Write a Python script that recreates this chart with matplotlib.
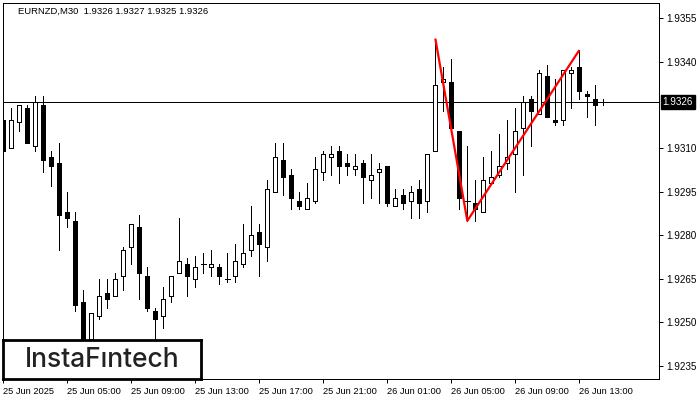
import matplotlib
matplotlib.use("Agg")
import matplotlib.pyplot as plt
from matplotlib.patches import Rectangle

title_text = "EURNZD,M30  1.9326 1.9327 1.9325 1.9326"
logo_text = "InstaF\u0131ntech"

opens = [1.9320, 1.9310, 1.9319, 1.9324, 1.9311, 1.9325, 1.9307, 1.9305, 1.9288, 1.9285,
         1.9257, 1.9244, 1.9252, 1.9260, 1.9259, 1.9266, 1.9276, 1.9283, 1.9266, 1.9254,
         1.9252, 1.9259, 1.9267, 1.9270, 1.9265, 1.9270, 1.9269, 1.9269, 1.9265, 1.9266,
         1.9270, 1.9275, 1.9281, 1.9276, 1.9295, 1.9306, 1.9301, 1.9292, 1.9289, 1.9292,
         1.9302, 1.9307, 1.9309, 1.9305, 1.9303, 1.9305, 1.9299, 1.9302, 1.9304, 1.9290,
         1.9294, 1.9292, 1.9296, 1.9292, 1.9309, 1.9333, 1.9333, 1.9316, 1.9292, 1.9291,
         1.9288, 1.9298, 1.9301, 1.9305, 1.9308, 1.9317, 1.9327, 1.9322, 1.9335, 1.9320,
         1.9320, 1.9336, 1.9338, 1.9329, 1.9327, 1.9326]
highs = [1.9322, 1.9324, 1.9325, 1.9325, 1.9328, 1.9328, 1.9309, 1.9312, 1.9295, 1.9288,
         1.9261, 1.9253, 1.9265, 1.9265, 1.9267, 1.9276, 1.9284, 1.9287, 1.9269, 1.9255,
         1.9262, 1.9266, 1.9286, 1.9272, 1.9273, 1.9274, 1.9275, 1.9270, 1.9274, 1.9277,
         1.9284, 1.9290, 1.9284, 1.9299, 1.9312, 1.9312, 1.9303, 1.9295, 1.9298, 1.9307,
         1.9309, 1.9311, 1.9311, 1.9308, 1.9308, 1.9306, 1.9308, 1.9305, 1.9304, 1.9296,
         1.9296, 1.9297, 1.9299, 1.9308, 1.9348, 1.9338, 1.9341, 1.9316, 1.9311, 1.9299,
         1.9307, 1.9309, 1.9315, 1.9320, 1.9324, 1.9328, 1.9328, 1.9337, 1.9339, 1.9334,
         1.9337, 1.9338, 1.9344, 1.9330, 1.9332, 1.9327]
lows = [1.9308, 1.9310, 1.9316, 1.9312, 1.9309, 1.9302, 1.9297, 1.9275, 1.9283, 1.9254,
        1.9240, 1.9243, 1.9251, 1.9255, 1.9259, 1.9261, 1.9270, 1.9258, 1.9254, 1.9242,
        1.9248, 1.9257, 1.9267, 1.9259, 1.9262, 1.9267, 1.9266, 1.9263, 1.9264, 1.9264,
        1.9269, 1.9273, 1.9266, 1.9271, 1.9295, 1.9294, 1.9289, 1.9289, 1.9289, 1.9291,
        1.9299, 1.9301, 1.9298, 1.9301, 1.9301, 1.9291, 1.9293, 1.9291, 1.9290, 1.9290,
        1.9289, 1.9286, 1.9286, 1.9288, 1.9309, 1.9323, 1.9317, 1.9289, 1.9285, 1.9285,
        1.9288, 1.9298, 1.9300, 1.9303, 1.9295, 1.9301, 1.9311, 1.9322, 1.9321, 1.9318,
        1.9318, 1.9324, 1.9327, 1.9321, 1.9318, 1.9325]
closes = [1.9309, 1.9320, 1.9325, 1.9312, 1.9326, 1.9306, 1.9304, 1.9287, 1.9286, 1.9256,
          1.9242, 1.9253, 1.9259, 1.9258, 1.9265, 1.9275, 1.9284, 1.9267, 1.9255, 1.9251,
          1.9258, 1.9266, 1.9271, 1.9266, 1.9269, 1.9270, 1.9270, 1.9266, 1.9265, 1.9271,
          1.9274, 1.9280, 1.9277, 1.9296, 1.9307, 1.9300, 1.9293, 1.9290, 1.9293, 1.9303,
          1.9308, 1.9308, 1.9304, 1.9304, 1.9304, 1.9300, 1.9301, 1.9303, 1.9291, 1.9293,
          1.9291, 1.9295, 1.9291, 1.9308, 1.9332, 1.9334, 1.9317, 1.9293, 1.9292, 1.9289,
          1.9299, 1.9300, 1.9304, 1.9307, 1.9316, 1.9326, 1.9323, 1.9336, 1.9321, 1.9319,
          1.9337, 1.9337, 1.9330, 1.9328, 1.9325, 1.9326]

pattern_bars = [54, 58, 72]
pattern_prices = [1.9348, 1.9285, 1.9344]

x_tick_bars = [0, 8, 16, 24, 32, 40, 48, 56, 64, 72]
x_tick_labels = ["25 Jun 2025", "25 Jun 05:00", "25 Jun 09:00", "25 Jun 13:00",
                 "25 Jun 17:00", "25 Jun 21:00", "26 Jun 01:00", "26 Jun 05:00",
                 "26 Jun 09:00", "26 Jun 13:00"]
y_tick_values = [1.9235, 1.9250, 1.9265, 1.9280, 1.9295, 1.9310, 1.9340, 1.9355]
y_tick_labels = ["1.9235", "1.9250", "1.9265", "1.9280", "1.9295", "1.9310", "1.9340", "1.9355"]
current_price = 1.9326
current_label = "1.9326"

FONT = "Liberation Sans"
W, H = 700, 400
fig = plt.figure(figsize=(7, 4), dpi=100)
fig.patch.set_facecolor("white")
ax = fig.add_axes([3 / W, 21 / H, 656 / W, 376 / H])
ax.set_facecolor("white")

px = 0.72  # one pixel in points
body_w = 0.5
for i, (o, h, l, c) in enumerate(zip(opens, highs, lows, closes)):
    ax.vlines(i, l, h, color="black", lw=px, antialiased=False, zorder=2)
    if o == c:
        ax.hlines(o, i - 0.32, i + 0.32, color="black", lw=px, antialiased=False, zorder=3)
    else:
        bottom = min(o, c)
        fill = "white" if c > o else "black"
        ax.add_patch(Rectangle((i - body_w / 2, bottom), body_w, abs(c - o),
                               facecolor=fill, edgecolor="black", lw=px,
                               antialiased=False, zorder=3))

ax.axhline(current_price, color="black", lw=px, antialiased=False, zorder=1)
ax.plot(pattern_bars, pattern_prices, color="#ff0000", lw=1.6, zorder=4,
        solid_capstyle="butt")

ax.set_xlim(-0.04, 81.96)
ax.set_ylim(1.923034, 1.936028)

ax.yaxis.tick_right()
ax.set_yticks(y_tick_values)
ax.set_yticklabels(y_tick_labels, fontfamily=FONT, fontsize=7.1)
ax.set_xticks(x_tick_bars)
ax.set_xticklabels(x_tick_labels, fontfamily=FONT, fontsize=6.7)
for lab in ax.get_xticklabels():
    lab.set_horizontalalignment("left")
ax.tick_params(axis="y", length=3, width=px, pad=2.5, colors="black")
ax.tick_params(axis="x", length=3, width=px, pad=2.5, colors="black")
for s in ax.spines.values():
    s.set_linewidth(px)
    s.set_color("black")

ax.annotate(current_label, xy=(1.0, current_price), xycoords=("axes fraction", "data"),
            xytext=(2.5, 0), textcoords="offset points", ha="left", va="center",
            fontfamily=FONT, fontsize=7.1, color="white",
            bbox=dict(boxstyle="square,pad=0.2", facecolor="black", edgecolor="black"),
            annotation_clip=False, zorder=6)

fig.text(18 / W, 1 - 11 / H, title_text, fontfamily=FONT, fontsize=6.8,
         color="black", va="center", ha="left")

logo_ax = fig.add_axes([3 / W, 21 / H, 198 / W, 39 / H])
logo_ax.set_xlim(0, 1)
logo_ax.set_ylim(0, 1)
logo_ax.set_xticks([])
logo_ax.set_yticks([])
logo_ax.set_facecolor("white")
for s in logo_ax.spines.values():
    s.set_linewidth(2.0)
    s.set_color("black")
logo_ax.text(0.5, 0.48, logo_text, ha="center", va="center", fontfamily="Inter",
             fontweight="medium", fontsize=19, color="#222222")

fig.savefig("out.png", dpi=100)
